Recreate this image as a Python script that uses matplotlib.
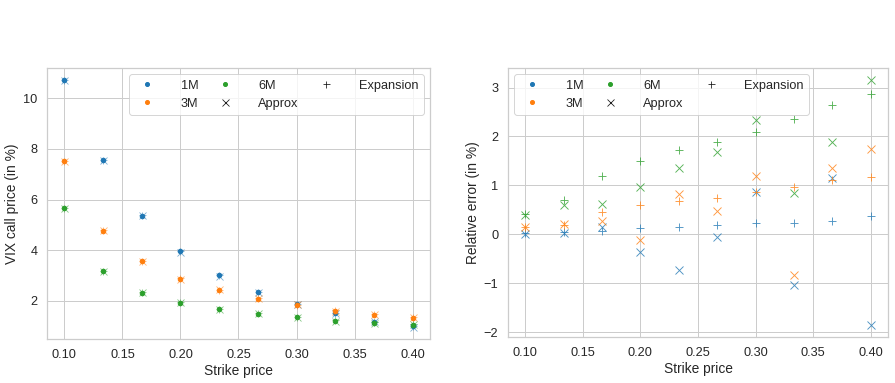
import matplotlib
matplotlib.use("Agg")
import matplotlib.pyplot as plt
from matplotlib.lines import Line2D
import numpy as np
import seaborn as sns

strikes = [0.1, 0.1333, 0.1667, 0.2, 0.2333, 0.2667, 0.3, 0.3333, 0.3667, 0.4]
maturities = ["1M", "3M", "6M"]
colors = ["tab:blue", "tab:orange", "tab:green"]

# market VIX call prices (in %)
price_1m = [10.71, 7.55, 5.37, 3.96, 3.01, 2.35, 1.88, 1.53, 1.18, 1.00]
price_3m = [7.51, 4.78, 3.56, 2.88, 2.43, 2.09, 1.84, 1.62, 1.45, 1.33]
price_6m = [5.66, 3.17, 2.32, 1.92, 1.67, 1.49, 1.35, 1.21, 1.12, 1.04]

# relative errors (in %)
err_approx_1m = [0.01, 0.03, 0.14, -0.37, -0.74, -0.05, 0.86, -1.03, 1.15, -1.85]
err_approx_3m = [0.14, 0.21, 0.27, -0.12, 0.83, 0.47, 1.19, -0.84, 1.35, 1.74]
err_approx_6m = [0.40, 0.60, 0.61, 0.97, 1.36, 1.68, 2.34, 0.84, 1.89, 3.15]
err_exp_1m = [0.02, 0.04, 0.07, 0.12, 0.15, 0.18, 0.23, 0.24, 0.28, 0.38]
err_exp_3m = [0.15, 0.20, 0.46, 0.59, 0.68, 0.74, 0.86, 0.96, 1.12, 1.18]
err_exp_6m = [0.41, 0.71, 1.19, 1.49, 1.73, 1.89, 2.10, 2.36, 2.64, 2.86]

prices = [price_1m, price_3m, price_6m]
err_approx = [err_approx_1m, err_approx_3m, err_approx_6m]
err_exp = [err_exp_1m, err_exp_3m, err_exp_6m]


def make_legend(ax, loc):
    handles = [Line2D([], [], color=c, marker="o", ls="none", ms=4) for c in colors]
    handles += [Line2D([], [], color="k", marker="x", ls="none", ms=7, mew=0.8),
                Line2D([], [], color="k", marker="+", ls="none", ms=7, mew=0.8)]
    labels = maturities + ["Approx", "Expansion"]
    ax.legend(handles, labels, ncol=3, loc=loc, fontsize=12.8,
              handletextpad=1.6, columnspacing=1.1)


def main():
    sns.set_theme(style="whitegrid")
    plt.rcParams["font.family"] = ["Liberation Sans", "DejaVu Sans"]
    plt.rcParams["xtick.labelsize"] = 12.7
    plt.rcParams["ytick.labelsize"] = 12.7
    plt.rcParams["axes.labelsize"] = 13.8

    fig = plt.figure(figsize=(895 / 72, 383 / 72), dpi=72)
    ax1 = fig.add_axes([47 / 895, 44 / 383, 383 / 895, 271 / 383])
    ax2 = fig.add_axes([508 / 895, 46 / 383, 380 / 895, 269 / 383])

    x = np.array(strikes)
    for p, ea, ee, c in zip(prices, err_approx, err_exp, colors):
        p = np.array(p)
        ax1.plot(x, p, "o", color=c, ms=4.5)
        ax1.plot(x, p * (1 + np.array(ea) / 100), "x", color=c, ms=7, mew=0.8, alpha=0.6)
        ax1.plot(x, p * (1 + np.array(ee) / 100), "+", color=c, ms=7, mew=0.8, alpha=0.6)

        ax2.plot(x, ea, "x", color=c, ms=8, mew=0.9, alpha=0.8)
        ax2.plot(x, ee, "+", color=c, ms=8, mew=0.9, alpha=0.8)

    ax1.set_xlabel("Strike price")
    ax1.set_ylabel("VIX call price (in %)")
    ax2.set_xlabel("Strike price")
    ax2.set_ylabel("Relative error (in %)")
    ax1.set_yticks([2, 4, 6, 8, 10])

    make_legend(ax1, "upper right")
    make_legend(ax2, "upper left")

    fig.savefig("out.png", dpi=72)


if __name__ == "__main__":
    main()
